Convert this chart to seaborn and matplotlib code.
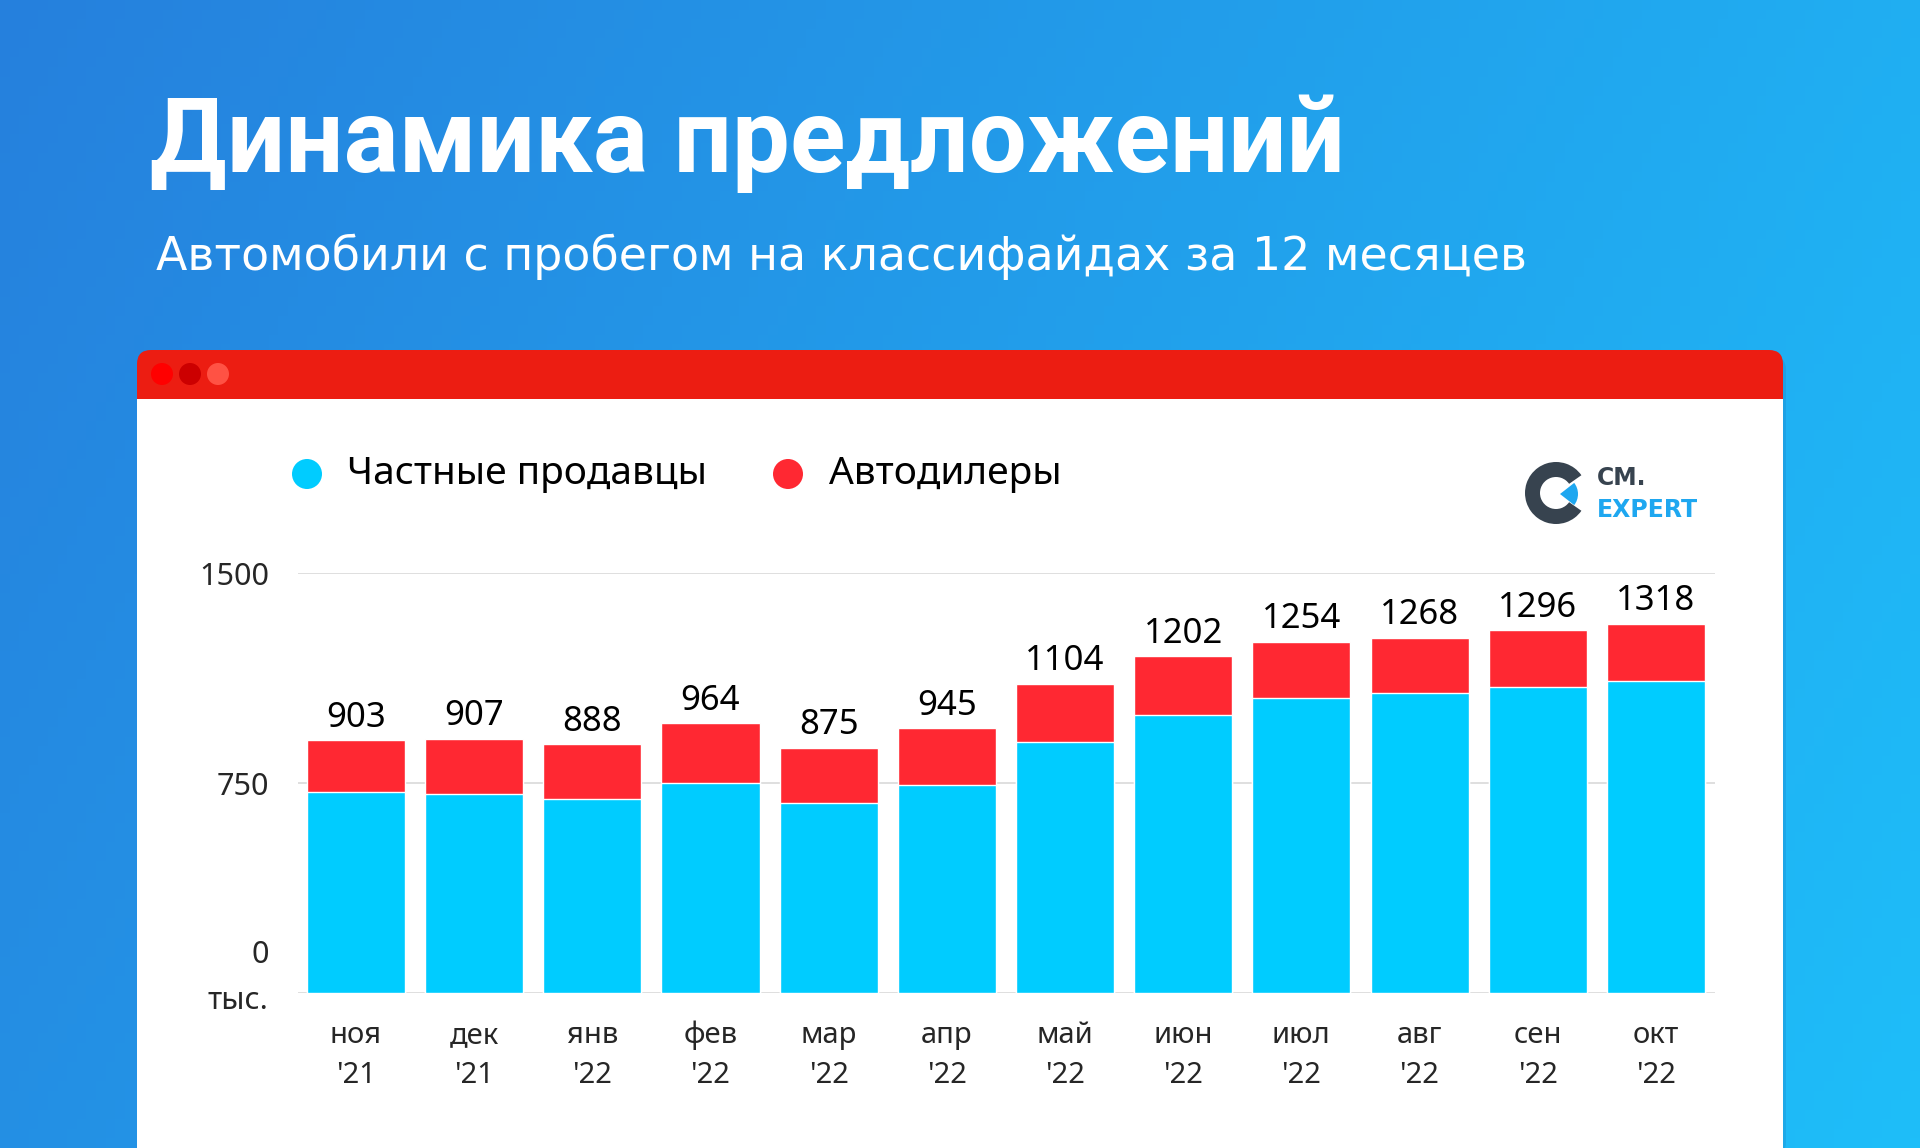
import numpy as np
import pandas as pd
import matplotlib
matplotlib.use("Agg")
import matplotlib.pyplot as plt
from matplotlib.patches import FancyBboxPatch, Rectangle, Circle, Wedge
import seaborn as sns

# ---- data ----
months = ["ноя\n'21", "дек\n'21", "янв\n'22", "фев\n'22", "мар\n'22", "апр\n'22",
          "май\n'22", "июн\n'22", "июл\n'22", "авг\n'22", "сен\n'22", "окт\n'22"]
totals = [903, 907, 888, 964, 875, 945, 1104, 1202, 1254, 1268, 1296, 1318]
private = [717, 710, 692, 749, 678, 742, 897, 992, 1053, 1070, 1093, 1113]
series_names = ["Частные продавцы", "Автодилеры"]
yticks = [0, 750, 1500]
title = "Динамика предложений"
subtitle = "Автомобили с пробегом на классифайдах за 12 месяцев"

C_BLUE = "#00ccff"
C_RED = "#ff2832"

sns.set_style("white")
FONT = ["Noto Sans", "DejaVu Sans"]
plt.rcParams["font.family"] = FONT

W, H = 1920, 1148
fig = plt.figure(figsize=(W / 100, H / 100), dpi=100)

# ---- background ----
bg = fig.add_axes([0, 0, 1, 1])
bg.set_xlim(0, W)
bg.set_ylim(H, 0)
bg.axis("off")
xx, yy = np.meshgrid(np.linspace(0, 1, 200), np.linspace(0, 1, 120))
t = np.clip(0.75 * xx + 0.25 * yy, 0, 1)[..., None]
c0 = np.array([38, 128, 221]) / 255
c1 = np.array([30, 190, 249]) / 255
img = c0 * (1 - t) + c1 * t
bg.imshow(img, extent=[0, W, H, 0], aspect="auto", zorder=0)

# window
bg.add_patch(FancyBboxPatch((140, 356), 1646, 800, boxstyle="round,pad=0,rounding_size=14",
                            fc="#1a5fa8", ec="none", alpha=0.18, zorder=1))
bg.add_patch(FancyBboxPatch((137, 350), 1646, 820, boxstyle="round,pad=0,rounding_size=14",
                            fc="#ec1d12", ec="none", zorder=2))
bg.add_patch(Rectangle((137, 399), 1646, 760, fc="white", ec="none", zorder=3))
for cx, col in zip([162, 190, 218], ["#ff0000", "#cc0000", "#ff5244"]):
    bg.add_patch(Circle((cx, 374), 11, fc=col, ec="none", zorder=4))

# titles
bg.text(150, 172, title, color="white", fontsize=74, fontweight="bold",
        family=["Roboto", "DejaVu Sans"], va="baseline", ha="left", zorder=5)
bg.text(156, 270, subtitle, color="white", fontsize=33,
        family=["DejaVu Sans"], va="baseline", ha="left", zorder=5)

# legend
for cx, tx, col, name in zip([307, 788], [347, 829], [C_BLUE, C_RED], series_names):
    bg.add_patch(Circle((cx, 474), 15, fc=col, ec="none", zorder=5))
    bg.text(tx, 474, name, color="black", fontsize=28, va="center", ha="left", zorder=5)

# logo
bg.add_patch(Wedge((1556, 493), 31, 35, 325, width=15, fc="#37434f", ec="none", zorder=5))
bg.add_patch(Wedge((1560, 494), 18, -38, 38, fc="#1ea7f0", ec="none", zorder=5))
bg.text(1597, 478, "CM.", color="#37434f", fontsize=17, fontweight="bold",
        family=["DejaVu Sans"], va="center", ha="left", zorder=5)
bg.text(1597, 510, "EXPERT", color="#1ea7f0", fontsize=17, fontweight="bold",
        family=["DejaVu Sans"], va="center", ha="left", zorder=5)

# ---- chart ----
L, R, T, B = 298, 1715, 573, 993
ax = fig.add_axes([L / W, 1 - B / H, (R - L) / W, (B - T) / H])
ax.set_facecolor("none")
df = pd.DataFrame({"month": months, "total": totals, "private": private})
sns.barplot(data=df, x="month", y="total", color=C_RED, saturation=1, width=0.83,
            ax=ax, zorder=2)
sns.barplot(data=df, x="month", y="private", color=C_BLUE, saturation=1, width=0.83,
            ax=ax, zorder=3)
ax.bar_label(ax.containers[0], labels=[str(v) for v in totals], padding=4,
             fontsize=25, color="black")
ax.set_xlim(-0.49, 11.5)
ax.set_ylim(0, 1500)
ax.set_yticks(yticks)
ax.set_yticklabels(["", "750", "1500"], fontsize=22)
ax.yaxis.grid(True, color="#dcdcdc", linewidth=1.3)
ax.set_axisbelow(True)
ax.tick_params(axis="y", length=0, pad=21)
ax.tick_params(axis="x", length=0, pad=20, labelsize=21)
for lab in ax.get_xticklabels():
    lab.set_linespacing(1.5)
ax.set_xlabel("")
ax.set_ylabel("")
sns.despine(ax=ax, left=True, bottom=True)
ax.annotate("0", xy=(0, 0), xycoords=("axes fraction", "data"), xytext=(-21, 27.5),
            textcoords="offset points", ha="right", va="center", fontsize=22)
ax.annotate("тыс.", xy=(0, 0), xycoords=("axes fraction", "data"), xytext=(-21, -5.5),
            textcoords="offset points", ha="right", va="center", fontsize=22)

fig.savefig("out.png", dpi=100)
